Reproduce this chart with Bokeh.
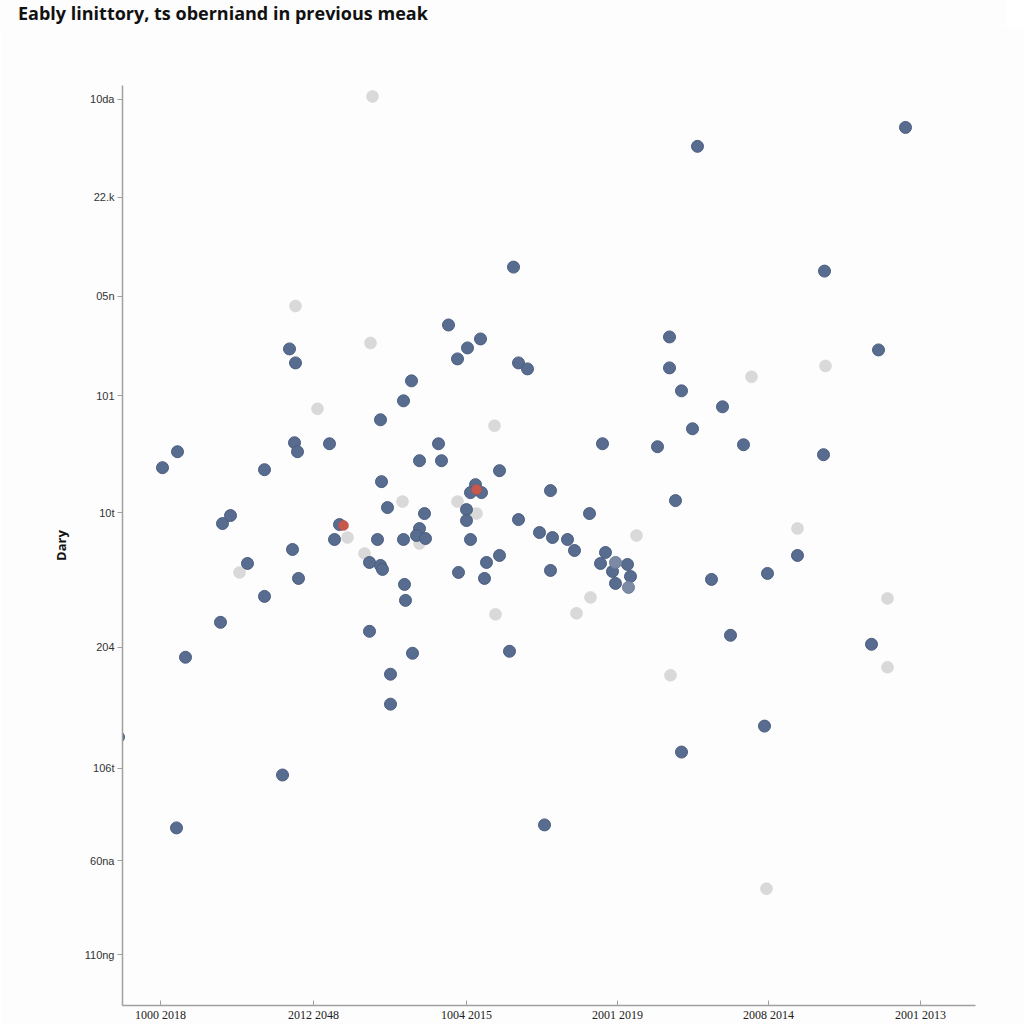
from bokeh.plotting import figure
from bokeh.models import Range1d, FixedTicker, Div
from bokeh.layouts import column
from bokeh.embed import file_html
from bokeh.resources import INLINE

title_text = "Eably linittory, ts oberniand in previous meak"
y_axis_label = "Dary"

x_tick_values = [38, 191, 344, 495, 646, 798]
x_tick_labels = ["1000 2018", "2012 2048", "1004 2015", "2001 2019", "2008 2014", "2001 2013"]

y_tick_values = [908, 810, 711, 611, 494, 359, 238, 145, 51]
y_tick_labels = ["10da", "22.k", "05n", "101", "10t", "204", "106t", "60na", "110ng"]

blue_x = [575, 783, 391, 702, 326, 358, 345, 335, 547, 756, 396, 405, 547, 167, 173,
          289, 559, 281, 600, 258, 570, 55, 40, 172, 175, 207, 316, 480, 535, 621,
          701, 297, 319, 142, 377, 259, 428, 353, 348, 359, 344, 553, 265, 302, 108,
          467, 396, 344, 100, 217, 297, 294, 303, 212, 255, 281, 348, 417, 430, 445,
          452, 483, 675, 247, 258, 260, 170, 125, 377, 364, 478, 505, 490, 508, 493,
          428, 336, 362, 176, 589, 645, 282, 142, 283, 98, 247, 608, 63, 290, 387,
          749, 268, 268, -4, 559, 642, 160, 54, 422]
blue_y = [861, 880, 740, 736, 682, 668, 659, 648, 670, 657, 644, 638, 639, 658, 644,
          626, 616, 606, 600, 587, 578, 555, 539, 564, 555, 563, 563, 563, 560, 562,
          552, 546, 546, 537, 536, 525, 516, 522, 514, 514, 497, 506, 499, 493, 491,
          493, 487, 486, 483, 482, 478, 471, 468, 467, 467, 467, 467, 474, 469, 467,
          456, 454, 451, 444, 441, 437, 457, 443, 451, 444, 443, 442, 435, 430, 423,
          436, 434, 428, 428, 427, 433, 422, 410, 406, 384, 375, 371, 349, 353, 355,
          362, 332, 302, 269, 254, 280, 231, 178, 181]

faded_x = [493, 506]
faded_y = [444, 419]

gray_x = [250, 173, 248, 703, 629, 195, 372, 280, 335, 354, 297, 225, 675, 514, 242,
          117, 468, 454, 373, 765, 765, 548, 644]
gray_y = [911, 701, 664, 641, 630, 598, 581, 505, 505, 493, 463, 469, 478, 471, 453,
          434, 409, 393, 392, 408, 339, 331, 117]

red_x = [354, 221]
red_y = [517, 481]

title_div = Div(text=title_text, width=1024, height=26, margin=(0, 0, 0, 0),
                styles={"font-family": "Open Sans", "font-size": "18px",
                        "font-weight": "bold", "color": "#111111",
                        "padding-left": "18px", "line-height": "26px",
                        "background-color": "#fdfdfd", "width": "1006px"})

p = figure(width=1024, height=998, output_backend="svg", toolbar_location=None,
           x_range=Range1d(0, 853), y_range=Range1d(0, 922),
           min_border_left=122, min_border_right=49, min_border_top=59,
           min_border_bottom=10, margin=(0, 0, 0, 0),
           background_fill_color="#fdfdfd", border_fill_color="#fdfdfd")

p.outline_line_color = None
p.grid.visible = False

p.xaxis.ticker = FixedTicker(ticks=x_tick_values)
p.xaxis.major_label_overrides = dict(zip(x_tick_values, x_tick_labels))
p.xaxis.axis_line_color = "#a0a0a0"
p.xaxis.axis_line_width = 1.5
p.xaxis.major_tick_line_color = "#a0a0a0"
p.xaxis.major_tick_in = 5
p.xaxis.major_tick_out = 0
p.xaxis.minor_tick_line_color = None
p.xaxis.major_label_standoff = 2
p.xaxis.major_label_text_font = "Liberation Sans Narrow"
p.xaxis.major_label_text_font_size = "12px"
p.xaxis.major_label_text_color = "#222222"

p.yaxis.ticker = FixedTicker(ticks=y_tick_values)
p.yaxis.major_label_overrides = dict(zip(y_tick_values, y_tick_labels))
p.yaxis.axis_line_color = "#a0a0a0"
p.yaxis.axis_line_width = 1.5
p.yaxis.major_tick_line_color = "#a0a0a0"
p.yaxis.major_tick_in = 0
p.yaxis.major_tick_out = 5
p.yaxis.minor_tick_line_color = None
p.yaxis.major_label_standoff = 3
p.yaxis.major_label_text_font = "Liberation Sans"
p.yaxis.major_label_text_font_size = "11px"
p.yaxis.major_label_text_color = "#333333"
p.yaxis.axis_label = y_axis_label
p.yaxis.axis_label_text_font = "Open Sans"
p.yaxis.axis_label_text_font_size = "13px"
p.yaxis.axis_label_text_font_style = "bold"
p.yaxis.axis_label_text_color = "#111111"
p.yaxis.axis_label_standoff = 12

p.scatter(gray_x, gray_y, size=12, fill_color="#d9d9d9", line_color="#d0d0d0", line_width=0.5)
p.scatter(blue_x, blue_y, size=12, fill_color="#586c90", line_color="#4b5e80", line_width=1)
p.scatter(faded_x, faded_y, size=12, fill_color="#7d8aa5", line_color="#6f7d99", line_width=1)
p.scatter(red_x, red_y, size=10, fill_color="#c8574c", line_color="#b84c42", line_width=0.5)

layout = column(title_div, p, spacing=0, margin=(0, 0, 0, 0))

open("out.html", "w").write(file_html(layout, INLINE))
